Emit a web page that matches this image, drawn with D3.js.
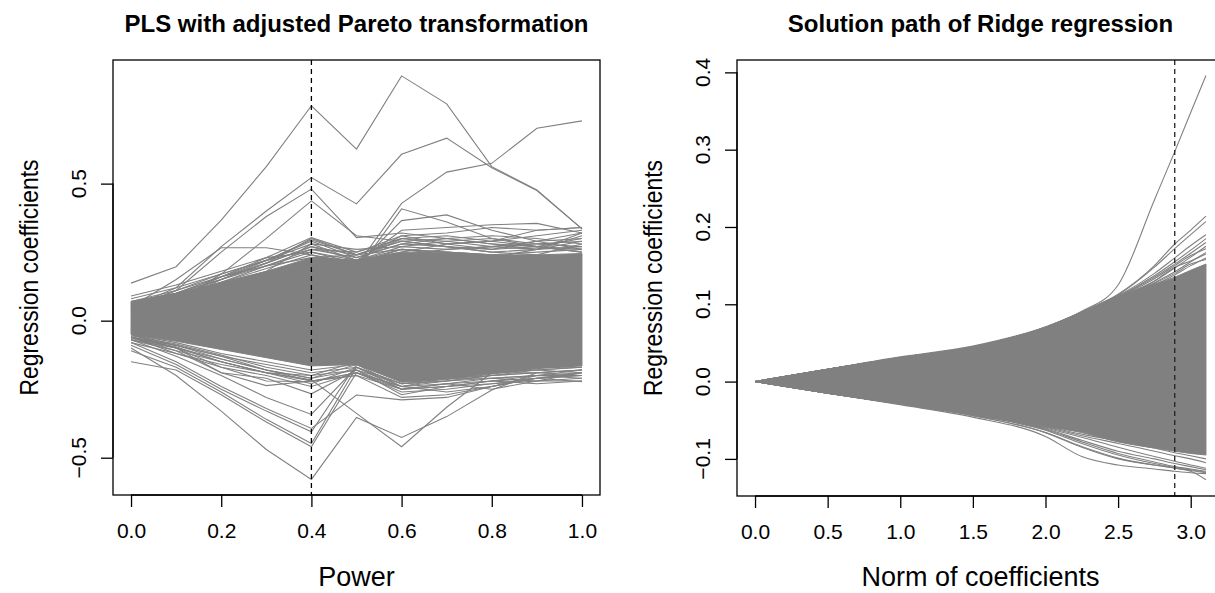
<!DOCTYPE html>
<html>
<head>
<meta charset="utf-8">
<script src="https://cdn.jsdelivr.net/npm/d3@7/dist/d3.min.js"></script>
<style>
  html, body { margin: 0; padding: 0; background: #fff; }
  svg { display: block; font-family: "Liberation Sans", Arial, Helvetica, sans-serif; }
</style>
</head>
<body>
<svg id="chart" width="1215" height="593"></svg>
<script>
// ---------------- DATA: left panel (PLS, power 0..1) ----------------
const plsPower = [0, 0.1, 0.2, 0.3, 0.4, 0.5, 0.6, 0.7, 0.8, 0.9, 1.0];
const plsBandUpper = [0.07, 0.10, 0.14, 0.18, 0.23, 0.22, 0.25, 0.25, 0.24, 0.24, 0.245];
const plsBandLower = [-0.05, -0.075, -0.105, -0.135, -0.165, -0.16, -0.225, -0.215, -0.195, -0.175, -0.165];
const plsLines = [
  [0.137, 0.197, 0.367, 0.562, 0.784, 0.626, 0.893, 0.791, 0.562, 0.477, 0.335],
  [0.05, 0.12, 0.27, 0.40, 0.522, 0.426, 0.607, 0.666, 0.558, 0.475, 0.335],
  [0.04, 0.11, 0.25, 0.38, 0.480, 0.303, 0.320, 0.300, 0.280, 0.270, 0.300],
  [0.02, 0.07, 0.17, 0.30, 0.437, 0.310, 0.290, 0.270, 0.250, 0.260, 0.320],
  [0.01, 0.05, 0.10, 0.15, 0.200, 0.200, 0.428, 0.542, 0.574, 0.702, 0.729],
  [0.05, 0.15, 0.266, 0.266, 0.240, 0.200, 0.220, 0.200, 0.180, 0.170, 0.160],
  [0.03, 0.08, 0.16, 0.23, 0.303, 0.250, 0.300, 0.280, 0.260, 0.270, 0.250],
  [0.02, 0.07, 0.15, 0.22, 0.295, 0.240, 0.260, 0.250, 0.240, 0.230, 0.240],
  [0.01, 0.05, 0.10, 0.15, 0.200, 0.180, 0.408, 0.360, 0.300, 0.280, 0.270],
  [0.00, 0.04, 0.09, 0.14, 0.190, 0.200, 0.365, 0.386, 0.330, 0.290, 0.260],
  [0.00, 0.03, 0.08, 0.12, 0.180, 0.210, 0.330, 0.340, 0.350, 0.355, 0.320],
  [0.01, 0.05, 0.11, 0.16, 0.210, 0.220, 0.310, 0.320, 0.340, 0.330, 0.340],
  [0.00, 0.04, 0.09, 0.15, 0.230, 0.220, 0.300, 0.310, 0.290, 0.330, 0.340],
  [0.07, 0.10, 0.15, 0.20, 0.250, 0.220, 0.270, 0.260, 0.270, 0.260, 0.270],
  [0.06, 0.09, 0.14, 0.19, 0.240, 0.210, 0.260, 0.250, 0.240, 0.250, 0.260],
  [0.08, 0.12, 0.17, 0.22, 0.260, 0.230, 0.280, 0.270, 0.250, 0.240, 0.280],
  [0.05, 0.11, 0.16, 0.21, 0.270, 0.220, 0.250, 0.280, 0.290, 0.270, 0.250],
  [0.09, 0.13, 0.18, 0.23, 0.250, 0.210, 0.240, 0.260, 0.270, 0.290, 0.300],
  [0.06, 0.10, 0.16, 0.20, 0.230, 0.240, 0.290, 0.300, 0.280, 0.260, 0.290],
  [0.04, 0.09, 0.13, 0.18, 0.280, 0.220, 0.260, 0.240, 0.230, 0.260, 0.310],
  [0.05, 0.09, 0.15, 0.21, 0.270, 0.240, 0.300, 0.290, 0.270, 0.280, 0.290],
  [0.06, 0.10, 0.16, 0.22, 0.290, 0.230, 0.280, 0.300, 0.310, 0.300, 0.280],
  [0.04, 0.08, 0.14, 0.20, 0.260, 0.250, 0.310, 0.280, 0.290, 0.310, 0.330],
  [0.07, 0.11, 0.17, 0.22, 0.280, 0.260, 0.270, 0.290, 0.300, 0.270, 0.260],
  [0.05, 0.10, 0.15, 0.21, 0.300, 0.240, 0.290, 0.270, 0.260, 0.290, 0.320],
  [-0.10, -0.20, -0.33, -0.47, -0.579, -0.353, -0.426, -0.350, -0.253, -0.190, -0.180],
  [-0.06, -0.12, -0.16, -0.19, -0.216, -0.338, -0.460, -0.316, -0.190, -0.170, -0.170],
  [-0.15, -0.18, -0.27, -0.37, -0.460, -0.190, -0.240, -0.220, -0.200, -0.190, -0.180],
  [-0.11, -0.17, -0.26, -0.36, -0.448, -0.170, -0.230, -0.210, -0.200, -0.180, -0.170],
  [-0.09, -0.16, -0.25, -0.33, -0.405, -0.160, -0.220, -0.200, -0.190, -0.190, -0.200],
  [-0.08, -0.15, -0.24, -0.32, -0.393, -0.271, -0.289, -0.280, -0.240, -0.210, -0.223],
  [-0.07, -0.13, -0.20, -0.28, -0.342, -0.170, -0.250, -0.240, -0.220, -0.200, -0.210],
  [-0.06, -0.11, -0.19, -0.21, -0.267, -0.180, -0.230, -0.220, -0.210, -0.220, -0.220],
  [-0.05, -0.10, -0.17, -0.22, -0.223, -0.190, -0.240, -0.210, -0.190, -0.180, -0.190],
  [-0.06, -0.10, -0.19, -0.237, -0.220, -0.200, -0.250, -0.230, -0.210, -0.200, -0.200],
  [-0.05, -0.08, -0.12, -0.15, -0.180, -0.160, -0.210, -0.200, -0.190, -0.180, -0.170],
  [-0.06, -0.09, -0.13, -0.16, -0.190, -0.170, -0.230, -0.220, -0.200, -0.190, -0.180],
  [-0.055, -0.085, -0.125, -0.17, -0.200, -0.150, -0.220, -0.210, -0.210, -0.200, -0.190],
  [-0.07, -0.10, -0.14, -0.18, -0.210, -0.160, -0.240, -0.230, -0.220, -0.210, -0.200],
  [-0.065, -0.095, -0.15, -0.19, -0.200, -0.180, -0.250, -0.240, -0.230, -0.210, -0.190],
  [-0.06, -0.09, -0.14, -0.18, -0.220, -0.190, -0.260, -0.250, -0.230, -0.220, -0.210],
  [-0.07, -0.11, -0.15, -0.19, -0.230, -0.170, -0.240, -0.260, -0.240, -0.210, -0.200],
  [-0.05, -0.09, -0.13, -0.18, -0.210, -0.180, -0.270, -0.240, -0.220, -0.230, -0.220],
  [-0.08, -0.12, -0.17, -0.20, -0.240, -0.190, -0.250, -0.230, -0.250, -0.220, -0.190],
  [-0.06, -0.10, -0.15, -0.19, -0.220, -0.200, -0.280, -0.270, -0.240, -0.200, -0.180]
];
const plsCut = 0.4;
const plsXTicks = [0, 0.2, 0.4, 0.6, 0.8, 1.0];
const plsYTicks = [-0.5, 0.0, 0.5];

// ---------------- DATA: right panel (Ridge path) ----------------
const ridgeNorm = [0, 0.5, 1.0, 1.5, 2.0, 2.25, 2.5, 2.75, 2.89, 3.0, 3.105];
const ridgeBandUpper = [0, 0.0155, 0.031, 0.045, 0.070, 0.090, 0.111, 0.126, 0.135, 0.144, 0.152];
const ridgeBandLower = [0, -0.0145, -0.029, -0.042, -0.058, -0.066, -0.078, -0.086, -0.090, -0.093, -0.095];
const ridgeLines = [
  [0, 0.016, 0.032, 0.046, 0.071, 0.091, 0.125, 0.235, 0.2975, 0.348, 0.396],
  [0, 0.016, 0.031, 0.045, 0.070, 0.090, 0.113, 0.150, 0.178, 0.196, 0.214],
  [0, 0.016, 0.031, 0.045, 0.070, 0.090, 0.112, 0.148, 0.172, 0.190, 0.207],
  [0, 0.016, 0.031, 0.045, 0.070, 0.089, 0.111, 0.140, 0.160, 0.176, 0.190],
  [0, 0.016, 0.031, 0.045, 0.070, 0.089, 0.110, 0.137, 0.155, 0.170, 0.185],
  [0, 0.016, 0.031, 0.045, 0.070, 0.089, 0.110, 0.135, 0.152, 0.166, 0.180],
  [0, 0.016, 0.031, 0.045, 0.070, 0.089, 0.109, 0.130, 0.147, 0.161, 0.175],
  [0, 0.016, 0.031, 0.045, 0.070, 0.089, 0.109, 0.133, 0.150, 0.163, 0.172],
  [0, 0.016, 0.031, 0.045, 0.070, 0.089, 0.108, 0.128, 0.142, 0.155, 0.167],
  [0, 0.016, 0.031, 0.045, 0.070, 0.089, 0.107, 0.125, 0.138, 0.150, 0.160],
  [0, 0.016, 0.031, 0.045, 0.070, 0.089, 0.106, 0.130, 0.148, 0.156, 0.165],
  [0, 0.016, 0.031, 0.045, 0.070, 0.089, 0.108, 0.127, 0.140, 0.152, 0.158],
  [0, -0.015, -0.029, -0.044, -0.066, -0.085, -0.100, -0.108, -0.112, -0.116, -0.127],
  [0, -0.015, -0.030, -0.046, -0.071, -0.097, -0.108, -0.113, -0.116, -0.118, -0.119],
  [0, -0.015, -0.029, -0.044, -0.066, -0.084, -0.099, -0.108, -0.112, -0.115, -0.118],
  [0, -0.015, -0.029, -0.043, -0.063, -0.080, -0.095, -0.106, -0.111, -0.114, -0.117],
  [0, -0.015, -0.029, -0.043, -0.062, -0.078, -0.093, -0.104, -0.110, -0.113, -0.116],
  [0, -0.015, -0.029, -0.043, -0.061, -0.076, -0.090, -0.100, -0.106, -0.110, -0.114],
  [0, -0.015, -0.029, -0.043, -0.060, -0.072, -0.085, -0.097, -0.103, -0.108, -0.112],
  [0, -0.015, -0.029, -0.042, -0.059, -0.070, -0.080, -0.090, -0.096, -0.100, -0.105],
  [0, -0.015, -0.029, -0.042, -0.058, -0.068, -0.077, -0.086, -0.092, -0.096, -0.100]
];
const ridgeCut = 2.89;
const ridgeXTicks = [0, 0.5, 1.0, 1.5, 2.0, 2.5, 3.0];
const ridgeYTicks = [-0.1, 0.0, 0.1, 0.2, 0.3, 0.4];

// ---------------- DRAWING ----------------
const svg = d3.select("#chart");
const LINE_COL = "#808080";

function panel(cfg) {
  const {id, x, y, xs, upper, lower, lines, cut, xTicks, yTicks, curve,
         title, xLabel, yLabel, yTickX, yLabelX, cutColor} = cfg;
  const [x0, x1] = x.range();
  const [y0, y1] = y.range(); // y0 bottom, y1 top
  const g = svg.append("g");

  g.append("clipPath").attr("id", id).append("rect")
    .attr("x", x0).attr("y", y1).attr("width", x1 - x0).attr("height", y0 - y1);
  const plot = g.append("g").attr("clip-path", `url(#${id})`);

  const area = d3.area().x((d, i) => x(xs[i])).y0((d, i) => y(lower[i])).y1((d, i) => y(upper[i])).curve(curve);
  plot.append("path").datum(upper).attr("d", area).attr("fill", LINE_COL).attr("stroke", LINE_COL).attr("stroke-width", 1);

  const line = d3.line().x((d, i) => x(xs[i])).y(d => y(d)).curve(curve);
  plot.selectAll("path.ln").data(lines).join("path").attr("class", "ln")
    .attr("d", line).attr("fill", "none").attr("stroke", LINE_COL).attr("stroke-width", 1.1);

  plot.append("line").attr("x1", x(cut)).attr("x2", x(cut)).attr("y1", y1).attr("y2", y0)
    .attr("stroke", cutColor).attr("stroke-width", 1.3).attr("stroke-dasharray", "5,4");

  // box
  g.append("rect").attr("x", x0).attr("y", y1).attr("width", x1 - x0).attr("height", y0 - y1)
    .attr("fill", "none").attr("stroke", "#000").attr("stroke-width", 1.3);

  // x axis
  const xa = g.append("g").attr("transform", `translate(0,${y0})`)
    .call(d3.axisBottom(x).tickValues(xTicks).tickSize(12).tickSizeOuter(0).tickPadding(16).tickFormat(d3.format(".1f")));
  xa.select(".domain").attr("d", `M${x(xTicks[0])},0H${x(xTicks[xTicks.length-1])}`).attr("stroke", "#000").attr("stroke-width", 1.3);
  xa.selectAll(".tick line").attr("stroke", "#000").attr("stroke-width", 1.3);
  xa.selectAll(".tick text").attr("font-size", 21).attr("fill", "#000")
    .attr("font-family", "'Liberation Sans', Arial, sans-serif");

  // y axis
  const ya = g.append("g").attr("transform", `translate(${x0},0)`)
    .call(d3.axisLeft(y).tickValues(yTicks).tickSize(12).tickSizeOuter(0).tickFormat(""));
  ya.select(".domain").attr("d", `M0,${y(yTicks[0])}V${y(yTicks[yTicks.length-1])}`).attr("stroke", "#000").attr("stroke-width", 1.3);
  ya.selectAll(".tick line").attr("stroke", "#000").attr("stroke-width", 1.3);
  g.selectAll("text.ytl").data(yTicks).join("text").attr("class", "ytl")
    .attr("transform", d => `translate(${yTickX},${y(d)}) rotate(-90)`)
    .attr("text-anchor", "middle").attr("font-size", 21).attr("fill", "#000")
    .text(d => d3.format(".1f")(d).replace("-", "\u2212"));

  // titles & labels
  g.append("text").attr("x", (x0 + x1) / 2).attr("y", 32).attr("text-anchor", "middle")
    .attr("font-size", 24).attr("font-weight", "bold").attr("fill", "#000").text(title);
  g.append("text").attr("x", (x0 + x1) / 2).attr("y", 586).attr("text-anchor", "middle")
    .attr("font-size", 27).attr("fill", "#000").text(xLabel);
  g.append("text").attr("transform", `translate(${yLabelX},${(y0 + y1) / 2}) rotate(-90)`)
    .attr("text-anchor", "middle").attr("font-size", 25)
    .attr("textLength", 236).attr("lengthAdjust", "spacingAndGlyphs")
    .attr("fill", "#000").text(yLabel);
}

panel({
  id: "clipL",
  x: d3.scaleLinear().domain([-0.04, 1.04]).range([113, 600]),
  y: d3.scaleLinear().domain([-0.636, 0.951]).range([495, 60]),
  xs: plsPower, upper: plsBandUpper, lower: plsBandLower, lines: plsLines,
  cut: plsCut, xTicks: plsXTicks, yTicks: plsYTicks, curve: d3.curveLinear,
  title: "PLS with adjusted Pareto transformation", xLabel: "Power",
  yLabel: "Regression coefficients", yTickX: 86, yLabelX: 38, cutColor: "#000"
});

panel({
  id: "clipR",
  x: d3.scaleLinear().domain([-0.1242, 3.2292]).range([737, 1224]),
  y: d3.scaleLinear().domain([-0.148, 0.416]).range([496, 60]),
  xs: ridgeNorm, upper: ridgeBandUpper, lower: ridgeBandLower, lines: ridgeLines,
  cut: ridgeCut, xTicks: ridgeXTicks, yTicks: ridgeYTicks, curve: d3.curveMonotoneX,
  title: "Solution path of Ridge regression", xLabel: "Norm of coefficients",
  yLabel: "Regression coefficients", yTickX: 710, yLabelX: 662, cutColor: "#222"
});
</script>
</body>
</html>
